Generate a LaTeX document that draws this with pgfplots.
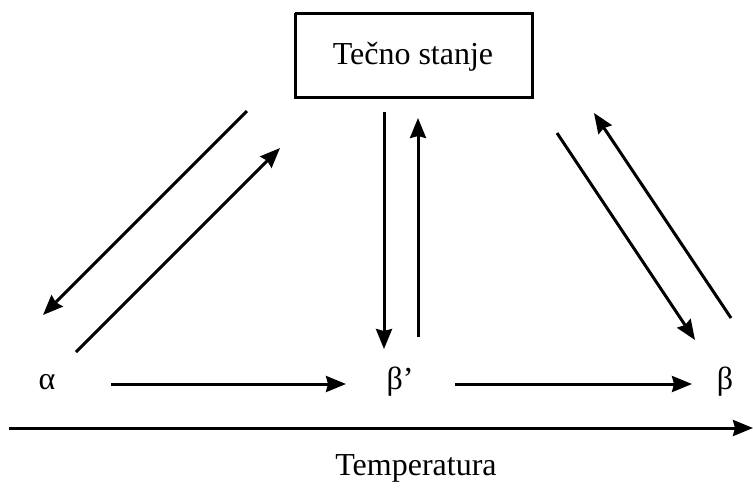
\documentclass[border=0pt]{standalone}
\usepackage{fontspec}
\setmainfont{Liberation Serif}
\usepackage{pgfplots}
\pgfplotsset{compat=1.18}
\usetikzlibrary{arrows.meta}
\tikzset{arr/.style={black, line width=3pt, -{Stealth[length=20pt,width=16pt,inset=2pt]}}}
\begin{document}
\begin{tikzpicture}
\useasboundingbox (0,0) rectangle (753pt,491pt);
\begin{axis}[
  at={(0,0)}, anchor=south west,
  scale only axis, width=753pt, height=491pt,
  xmin=0, xmax=753, ymin=0, ymax=491, y dir=reverse,
  hide axis, clip=false,
]
% box
\addplot[black, line width=3pt, mark=none] coordinates {(295,13) (532,13) (532,97) (295,97) (295,13)};
\node[font=\fontsize{32}{36}\selectfont] at (axis cs:413,57) {Tečno stanje};
% left pair
\addplot[arr, mark=none] coordinates {(247,111) (43,315)};
\addplot[arr, mark=none] coordinates {(76,352) (280,148)};
% centre pair
\addplot[arr, mark=none] coordinates {(384,112) (384,349)};
\addplot[arr, mark=none] coordinates {(418,337) (418,118)};
% right pair
\addplot[arr, mark=none] coordinates {(557,133) (695,340)};
\addplot[arr, mark=none] coordinates {(731,318) (594,113)};
% horizontal
\addplot[arr, mark=none] coordinates {(111,384) (346,384)};
\addplot[arr, mark=none] coordinates {(455,384) (692,384)};
\addplot[arr, mark=none] coordinates {(9,428) (753,428)};
% labels
\node[font=\fontsize{32}{36}\selectfont] at (axis cs:47,382) {α};
\node[font=\fontsize{32}{36}\selectfont] at (axis cs:400,382) {β’};
\node[font=\fontsize{32}{36}\selectfont] at (axis cs:725,382) {β};
\node[font=\fontsize{32}{36}\selectfont] at (axis cs:416,468) {Temperatura};
\end{axis}
\end{tikzpicture}
\end{document}
